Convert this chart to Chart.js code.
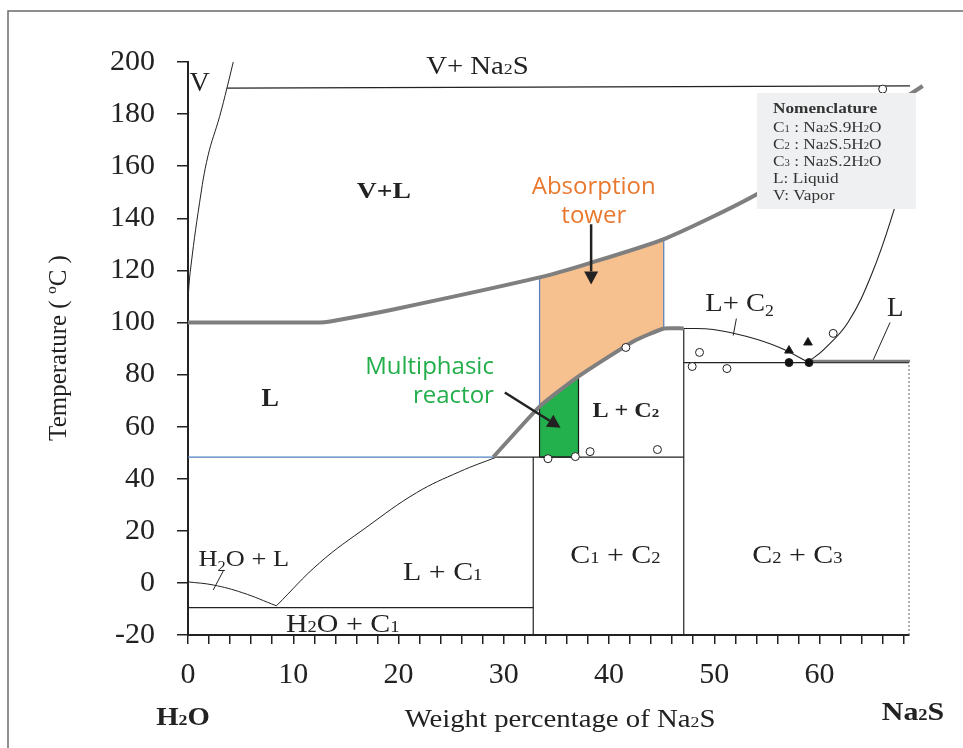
<!DOCTYPE html>
<html>
<head>
<meta charset="utf-8">
<script src="https://cdn.jsdelivr.net/npm/chart.js@4.4.0/dist/chart.umd.min.js"></script>
<style>
  html, body { margin: 0; padding: 0; background: #fff; }
  canvas { display: block; }
</style>
</head>
<body>
<canvas id="chart" width="963" height="748"></canvas>
<script>
// x = weight % Na2S, y = temperature (°C)
const xTicks = [0, 10, 20, 30, 40, 50, 60];
const yTicks = [-20, 0, 20, 40, 60, 80, 100, 120, 140, 160, 180, 200];

// thick grey boundaries
const upperX = [0, 12.5, 13.5, 19.5, 33.4, 38.1, 45.4, 54.2, 69.8];
const upperT = [100, 100, 100.4, 105, 117.3, 122.7, 132.3, 149.6, 190.8];
const lowerX = [29.0, 33.4, 37.1, 42.3, 45.2, 47.1];
const lowerT = [48.3, 67.7, 79.3, 92.7, 97.7, 97.7];

// shaded equipment zones
const towerX = [33.4, 33.4, 38.1, 45.2, 45.2, 42.3, 37.1, 33.4];
const towerT = [67.7, 117.3, 122.7, 132.0, 97.7, 92.7, 79.3, 67.7];
const reactorX = [33.4, 33.4, 37.1, 37.1, 33.4];
const reactorT = [48.3, 67.7, 79.3, 48.3, 48.3];

// thin black phase lines
const vaporX = [0, 0.2, 1.1, 1.9, 3.0, 3.7, 4.3];
const vaporT = [108.8, 119, 146, 164, 179, 190, 200];
const topLineX = [3.7, 68.6];
const topLineT = [190, 190.8];
const iceX = [0, 2.4, 5.2, 8.4];
const iceT = [0.4, -0.8, -3.8, -8.8];
const c1LiqX = [8.4, 12.5, 17, 21.7, 25.8, 29.3];
const c1LiqT = [-8.8, 7.7, 21.5, 34.6, 42.7, 48.3];
const eutX = [0, 32.8];
const eutT = [-9.5, -9.5];
const blueX = [0, 29.3];
const blueT = [48.3, 48.3];
const c1c2X = [29.3, 47.1];
const c1c2T = [48.3, 48.3];
const v33X = [32.8, 32.8];
const v33T = [-20, 48.3];
const v47X = [47.1, 47.1];
const v47T = [-20, 97.7];
const h85X = [47.1, 68.5];
const h85T = [84.6, 84.6];
const h85greyX = [59.3, 68.6];
const h85greyT = [85.2, 85.2];
const rightX = [68.5, 68.5];
const rightT = [-20, 84.6];
const c2LiqX = [47.1, 49.9, 53.1, 56.2, 58.9];
const c2LiqT = [97.7, 97.3, 94.6, 90.4, 84.8];
const c3LiqX = [58.9, 60.4, 62.7, 65.0, 67.1, 67.6];
const c3LiqT = [84.8, 89.6, 100, 119, 143.5, 152];
const leadLX = [66.7, 65.1];
const leadLT = [100, 85.6];
const leadC2X = [52.1, 51.8];
const leadC2T = [101.5, 95];
const leadIceX = [3.4, 2.4];
const leadIceT = [5, -2.7];

// experimental points
const openX = [38.2, 44.6, 34.2, 36.8, 41.6, 48.6, 47.9, 51.2, 61.3, 66.0];
const openT = [50.4, 51.2, 47.7, 48.5, 90.4, 88.5, 83.1, 82.3, 95.8, 189.6];
const triX = [57.1, 58.9];
const triT = [89.2, 92.3];
const dotX = [57.1, 59.0];
const dotT = [84.6, 84.6];

const pts = (xs, ys) => xs.map((x, i) => ({ x, y: ys[i] }));
const INK = '#222';
const GREY = '#7f7f7f';

function line(xs, ys, color, width, order, opts) {
  return Object.assign({
    data: pts(xs, ys), showLine: true, borderColor: color, borderWidth: width,
    pointRadius: 0, tension: 0, fill: false, order, clip: false
  }, opts || {});
}
function zone(xs, ys, fillColor, edge) {
  return {
    data: pts(xs, ys), showLine: true, borderColor: edge, borderWidth: 1.2,
    backgroundColor: fillColor, fill: 'shape', pointRadius: 0, tension: 0, order: 20
  };
}
function marks(xs, ys, style, r, bg) {
  return {
    data: pts(xs, ys), showLine: false, pointStyle: style, pointRadius: r,
    backgroundColor: bg, borderColor: INK, borderWidth: 1, order: 0
  };
}

const smooth = { tension: 0.4 };
const datasets = [
  zone(towerX, towerT, '#f6c18f', '#4f7fbf'),
  zone(reactorX, reactorT, '#22b14c', '#1a1a1a'),
  line(vaporX, vaporT, INK, 1, 5, smooth),
  line(topLineX, topLineT, INK, 1.3, 5),
  line(iceX, iceT, INK, 1, 5, smooth),
  line(c1LiqX, c1LiqT, INK, 1, 5, smooth),
  line(eutX, eutT, INK, 1.2, 5),
  line(blueX, blueT, '#4f7fbf', 1.3, 5),
  line(c1c2X, c1c2T, INK, 1.2, 5),
  line(v33X, v33T, INK, 1.2, 5),
  line(v47X, v47T, INK, 1.2, 5),
  line(h85X, h85T, INK, 1.2, 5),
  line(rightX, rightT, '#666', 1, 5, { borderDash: [2, 2] }),
  line(c2LiqX, c2LiqT, INK, 1.1, 5, smooth),
  line(c3LiqX, c3LiqT, INK, 1.1, 5, smooth),
  line(leadLX, leadLT, INK, 1, 5),
  line(leadC2X, leadC2T, INK, 1, 5),
  line(leadIceX, leadIceT, INK, 1, 5),
  line(h85greyX, h85greyT, GREY, 2.5, 2),
  line(upperX, upperT, GREY, 4, 1, { tension: 0.2 }),
  line(lowerX, lowerT, GREY, 4, 1, { tension: 0.15 }),
  marks(openX, openT, 'circle', 4, '#fff'),
  marks(triX, triT, 'triangle', 5, '#111'),
  marks(dotX, dotT, 'circle', 4, '#111')
];

// text drawn with small / lowered / raised segments
function rich(ctx, parts, x, y, o) {
  const size = o.size, fam = o.family || 'Liberation Serif', wt = o.weight || 'normal';
  const font = s => `${wt} ${s}px "${fam}"`;
  let w = 0;
  const segs = parts.map(p => {
    const [t, k] = Array.isArray(p) ? p : [p, ''];
    const s = k ? size * 0.62 : size;
    ctx.font = font(s);
    const m = ctx.measureText(t).width;
    const g = { t, k, s, off: w };
    w += m;
    return g;
  });
  ctx.save();
  ctx.translate(x, y);
  if (o.rotate) ctx.rotate(o.rotate);
  ctx.scale(o.stretch || 1, 1);
  const start = o.align === 'left' ? 0 : o.align === 'right' ? -w : -w / 2;
  ctx.fillStyle = o.color || INK;
  ctx.textBaseline = 'alphabetic';
  const base = size * 0.34;
  for (const g of segs) {
    ctx.font = font(g.s);
    let dy = base;
    if (g.k === 'd') dy += size * 0.2;
    if (g.k === 'u') dy -= size * 0.4;
    ctx.fillText(g.t, start + g.off, dy);
  }
  ctx.restore();
}

const SERIF = { size: 26, stretch: 1.15 };
const plotLabels = [
  { p: ['V'], x: 1.1, y: 192.7, o: { size: 28 } },
  { p: ['V+ Na', ['2', 's'], 'S'], x: 27.5, y: 198.8, o: { size: 25, stretch: 1.15 } },
  { p: ['V+L'], x: 18.6, y: 151, o: { size: 24, stretch: 1.15, weight: 'bold' } },
  { p: ['L'], x: 7.8, y: 71.2, o: { size: 26, weight: 'bold' } },
  { p: ['L + C', ['2', 's']], x: 41.6, y: 66.5, o: { size: 21, stretch: 1.15, weight: 'bold' } },
  { p: ['L+ C', ['2', 'd']], x: 52.4, y: 107.7, o: { size: 26, stretch: 1.1 } },
  { p: ['L'], x: 67.2, y: 106, o: { size: 27 } },
  { p: ['H', ['2', 'd'], 'O + L'], x: 5.3, y: 9.6, o: { size: 24, stretch: 1.1 } },
  { p: ['L + C', ['1', 's']], x: 24.2, y: 4.6, o: SERIF },
  { p: ['H', ['2', 's'], 'O + C', ['1', 's']], x: 14.7, y: -15.4, o: SERIF },
  { p: ['C', ['1', 's'], ' + C', ['2', 's']], x: 40.6, y: 11.2, o: SERIF },
  { p: ['C', ['2', 's'], ' + C', ['3', 's']], x: 57.9, y: 11.2, o: SERIF },
  { p: ['Absorption'], x: 38.55, y: 152.3, o: { size: 24, family: 'Open Sans', color: '#e8792f' } },
  { p: ['tower'], x: 38.55, y: 141.2, o: { size: 24, family: 'Open Sans', color: '#e8792f' } },
  { p: ['Multiphasic'], x: 29.06, y: 83.5, o: { size: 24, family: 'Open Sans', color: '#22ae4a', align: 'right' } },
  { p: ['reactor'], x: 29.06, y: 72.3, o: { size: 24, family: 'Open Sans', color: '#22ae4a', align: 'right' } }
];
const arrows = [
  { x1: 38.3, y1: 137.7, x2: 38.3, y2: 114.6 },
  { x1: 30.1, y1: 73.1, x2: 35.4, y2: 59.6 }
];
const legendLines = [
  [['C', ['1', 's'], ' : Na', ['2', 's'], 'S.9H', ['2', 's'], 'O']],
  [['C', ['2', 's'], ' : Na', ['2', 's'], 'S.5H', ['2', 's'], 'O']],
  [['C', ['3', 's'], ' : Na', ['2', 's'], 'S.2H', ['2', 's'], 'O']],
  [['L: Liquid']],
  [['V: Vapor']]
];

function arrow(ctx, x1, y1, x2, y2) {
  const a = Math.atan2(y2 - y1, x2 - x1), head = 13, half = 7;
  const c = Math.cos(a), s = Math.sin(a);
  ctx.save();
  ctx.strokeStyle = INK; ctx.fillStyle = INK; ctx.lineWidth = 2.5;
  ctx.beginPath(); ctx.moveTo(x1, y1); ctx.lineTo(x2 - head * c, y2 - head * s); ctx.stroke();
  ctx.beginPath();
  ctx.moveTo(x2, y2);
  ctx.lineTo(x2 - head * c - half * s, y2 - head * s + half * c);
  ctx.lineTo(x2 - head * c + half * s, y2 - head * s - half * c);
  ctx.closePath(); ctx.fill();
  ctx.restore();
}

const decor = {
  id: 'decor',
  beforeDraw(chart) {
    const ctx = chart.ctx;
    ctx.save();
    ctx.fillStyle = '#fff';
    ctx.fillRect(0, 0, chart.width, chart.height);
    ctx.strokeStyle = '#6b6b6b'; ctx.lineWidth = 1.5;
    ctx.beginPath(); ctx.moveTo(8, chart.height); ctx.lineTo(8, 11); ctx.lineTo(chart.width, 11); ctx.stroke();
    ctx.restore();
  },
  afterDatasetsDraw(chart) {
    const ctx = chart.ctx, xs = chart.scales.x, ys = chart.scales.y;
    const px = v => xs.getPixelForValue(v), py = v => ys.getPixelForValue(v);
    arrows.forEach(a => arrow(ctx, px(a.x1), py(a.y1), px(a.x2), py(a.y2)));
    plotLabels.forEach(l => rich(ctx, l.p, px(l.x), py(l.y), l.o));

    // nomenclature box
    ctx.save();
    ctx.fillStyle = '#eff0f1';
    ctx.fillRect(757, 93, 159, 116);
    ctx.restore();
    rich(ctx, ['Nomenclature'], 773, 108, { size: 15, stretch: 1.15, weight: 'bold', align: 'left', color: '#333' });
    legendLines.forEach((l, i) => rich(ctx, l[0], 773, 127 + i * 17, { size: 15, stretch: 1.15, align: 'left', color: '#333' }));

    // axis titles and component names
    rich(ctx, ['Temperature ( ', ['o', 'u'], 'C )'], 57, 348, { size: 25, rotate: -Math.PI / 2 });
    rich(ctx, ['Weight percentage of Na', ['2', 's'], 'S'], 560, 718, { size: 25, stretch: 1.15 });
    rich(ctx, ['H', ['2', 's'], 'O'], 183, 716, { size: 25, stretch: 1.15, weight: 'bold' });
    rich(ctx, ['Na', ['2', 's'], 'S'], 913, 711, { size: 26, stretch: 1.15, weight: 'bold' });
  }
};

new Chart(document.getElementById('chart'), {
  type: 'scatter',
  data: { datasets },
  options: {
    responsive: false,
    animation: false,
    devicePixelRatio: 1,
    layout: { padding: { top: 62, right: 54, left: 0, bottom: 0 } },
    plugins: { legend: { display: false }, tooltip: { enabled: false } },
    scales: {
      x: {
        type: 'linear', min: 0, max: 68.5,
        afterFit: s => { s.height = 113; },
        border: { color: INK, width: 2 },
        grid: { drawOnChartArea: false, drawTicks: true, tickLength: 9, color: INK, lineWidth: 1.5 },
        ticks: {
          stepSize: 2, autoSkip: false, maxRotation: 0, includeBounds: false, padding: 13,
          color: INK, font: { family: 'Liberation Serif', size: 30 },
          callback: v => (xTicks.includes(v) ? v : '')
        }
      },
      y: {
        type: 'linear', min: -20, max: 200,
        afterFit: s => { s.width = 188; },
        border: { color: INK, width: 2 },
        grid: { drawOnChartArea: false, drawTicks: true, tickLength: 11, color: INK, lineWidth: 1.5 },
        ticks: {
          stepSize: 20, autoSkip: false, padding: 22,
          color: INK, font: { family: 'Liberation Serif', size: 30 },
          callback: v => (yTicks.includes(v) ? v : '')
        }
      }
    }
  },
  plugins: [decor]
});
</script>
</body>
</html>
